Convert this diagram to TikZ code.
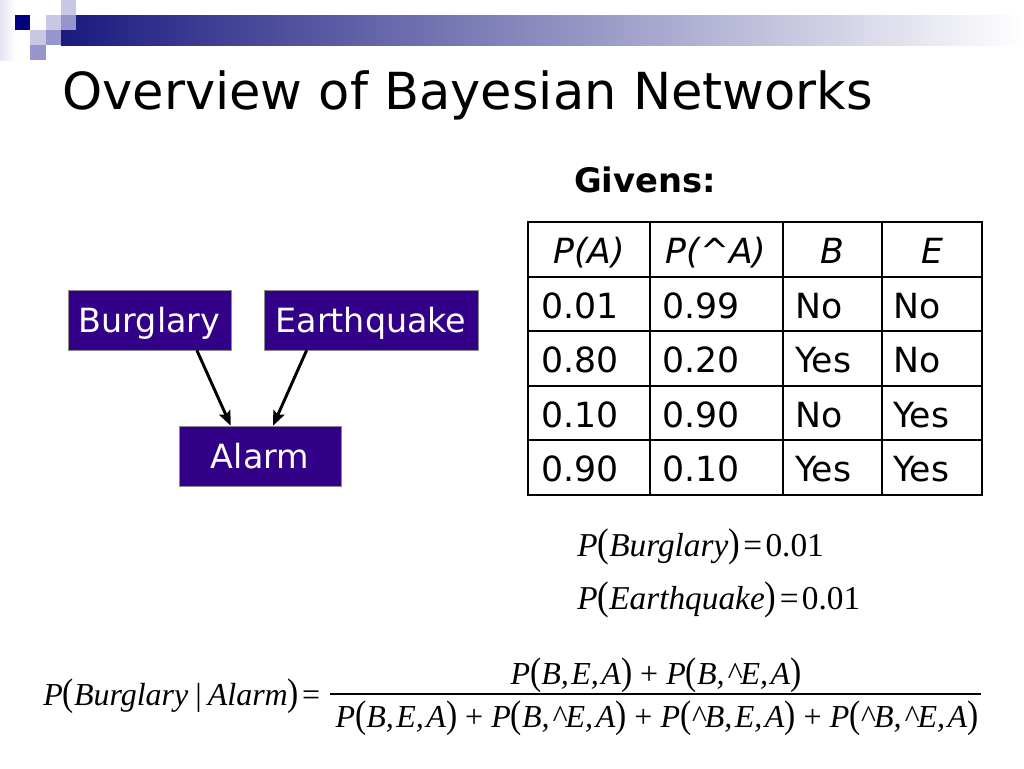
\documentclass[tikz,border=0pt]{standalone}
\usepackage{fontspec}
\usepackage{graphicx}
\setmainfont{DejaVu Sans}
\newfontfamily\tms{Liberation Serif}
\usetikzlibrary{arrows.meta, positioning, calc}

\definecolor{netpurple}{RGB}{51,0,136}
\definecolor{barnavy}{RGB}{26,26,128}
\definecolor{sqnavy}{RGB}{0,0,128}
\definecolor{lavlight}{RGB}{200,200,228}
\definecolor{lavmid}{RGB}{150,150,204}

\newcommand{\lp}{\scalebox{1.05}[1.2]{\upshape(}}
\newcommand{\rp}{\scalebox{1.05}[1.2]{\upshape)}}
\newcommand{\ct}{\textasciicircum}
\newcommand{\cm}{,\hspace{0.08em}}
\newcommand{\pl}{\hspace{0.25em}{\upshape +}\hspace{0.25em}}
\newcommand{\eq}{\hspace{0.1em}{\upshape =}\hspace{0.1em}}

\begin{document}
\begin{tikzpicture}[
    x=0.75pt, y=-0.75pt,
    varnode/.style={
        rectangle, fill=netpurple, draw=black!45, thin, text=white,
        minimum height=45pt, inner sep=0pt, text height=18.2pt, text depth=0pt,
        font=\fontsize{25}{30}\selectfont
    },
    link/.style={-{Stealth[length=11pt,width=9pt,inset=2pt]}, line width=2.2pt},
    cell/.style={anchor=base west, inner sep=0pt, font=\fontsize{26}{31}\selectfont},
    head/.style={anchor=base, inner sep=0pt, font=\fontsize{26}{31}\selectfont\itshape},
    formula/.style={inner sep=0pt, font=\fontsize{25}{30}\selectfont\tms\itshape},
    bigformula/.style={inner sep=0pt, font=\fontsize{24}{29}\selectfont\tms\itshape},
]
\useasboundingbox (0,0) rectangle (1024,768);

% Header decoration
\shade[left color=lavlight!50, right color=white] (0,0) rectangle (15,60);
\shade[left color=barnavy, middle color=barnavy!35, right color=white] (61,15) rectangle (1024,45);
\fill[sqnavy] (15,15) rectangle (30,30);
\fill[lavlight] (46,15) rectangle (61,30);
\fill[lavmid] (61,15) rectangle (76,30);
\fill[lavlight] (61,0) rectangle (76,15);
\fill[lavlight] (30,30) rectangle (46,45);
\fill[lavmid] (46,30) rectangle (61,45);
\fill[lavmid] (30,45) rectangle (46,60);

% Title
\node[anchor=base west, inner sep=0pt, font=\fontsize{38.3}{46}\selectfont] (title) at (62,109)
    {Overview of Bayesian Networks};

% Network
\node[varnode, minimum width=122pt] (burg) at (149.5,320) {Burglary};
\node[varnode, minimum width=160.5pt] (quake) at (371,320) {Earthquake};
\node[varnode, minimum width=121.5pt] (alarm) at (260,456) {Alarm};

\draw[link] ($(burg.south west)!0.79!(burg.south east)$)
    -- ($(alarm.north west)!0.32!(alarm.north east)$);
\draw[link] ($(quake.south west)!0.20!(quake.south east)$)
    -- ($(alarm.north west)!0.58!(alarm.north east)$);

% Givens table
\node[anchor=base west, inner sep=0pt, font=\fontsize{25.3}{30}\selectfont\bfseries] (givens) at (574,192) {Givens:};

\foreach \x in {650,783,882}
    \draw[line width=1pt] (\x,222) -- (\x,495);
\foreach \y in {277,331,386,440}
    \draw[line width=1pt] (528,\y) -- (982,\y);
\draw[line width=2.2pt] (528,222) rectangle (982,495);

\node[head] (hpa) at (589,263) {P(A)};
\node[head] (hpn) at (716,263) {P(\ct A)};
\node[head] (hb) at (832,263) {B};
\node[head] (he) at (932,263) {E};

\foreach \pa/\pn/\vb/\ve [count=\r] in
    {0.01/0.99/No/No, 0.80/0.20/Yes/No, 0.10/0.90/No/Yes, 0.90/0.10/Yes/Yes} {
    \pgfmathsetmacro\yb{263.5+54.6*\r}
    \node[cell] (pa\r) at (541,\yb) {\pa};
    \node[cell] (pn\r) at (662,\yb) {\pn};
    \node[cell] (vb\r) at (795,\yb) {\vb};
    \node[cell] (ve\r) at (893,\yb) {\ve};
}

% Priors
\node[formula, anchor=base west] (pburg) at (577,556)
    {P\lp Burglary\rp\eq{\upshape 0.01}};
\node[formula, anchor=base west] (pquake) at (577,609)
    {P\lp Earthquake\rp\eq{\upshape 0.01}};

% Posterior
\node[bigformula, anchor=base west] (lhs) at (43,705)
    {P\lp Burglary\,|\,Alarm\rp\eq};
\node[bigformula, anchor=base] (num) at (656,684)
    {P\lp B\cm E\cm A\rp\pl P\lp B\cm\ct E\cm A\rp};
\node[bigformula, anchor=base] (den) at (657,727)
    {P\lp B\cm E\cm A\rp\pl P\lp B\cm\ct E\cm A\rp\pl P\lp\ct B\cm E\cm A\rp\pl P\lp\ct B\cm\ct E\cm A\rp};
\coordinate (fracL) at (330,694);
\coordinate (fracR) at (981,694);
\draw[line width=0.9pt] (fracL) -- (fracR);

\end{tikzpicture}
\end{document}
